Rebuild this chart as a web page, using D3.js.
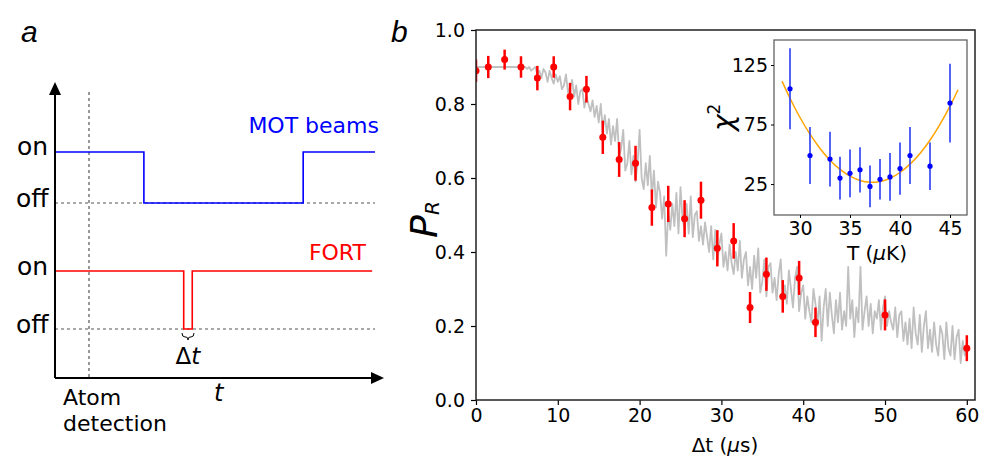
<!DOCTYPE html>
<html>
<head>
<meta charset="utf-8">
<script src="https://cdn.jsdelivr.net/npm/d3@7"></script>
<style>
  body { margin: 0; background: #fff; }
  svg { display: block; font-family: 'DejaVu Sans', sans-serif; }
  .tick text { font-family: 'DejaVu Sans', sans-serif; fill: #000; }
</style>
</head>
<body>
<svg id="chart" width="984" height="459"></svg>
<script>
// panel b: measured release-recapture probability
var redT = [0, 1.5, 3.5, 5.5, 7.5, 9.5, 11.5, 13.5, 15.5, 17.5, 19.5, 21.5, 23.5, 25.5, 27.5, 29.5, 31.5, 33.5, 35.5, 37.5, 39.5, 41.5, 50, 60];
var redP = [0.89, 0.90, 0.92, 0.90, 0.87, 0.90, 0.82, 0.84, 0.71, 0.65, 0.64, 0.52, 0.53, 0.49, 0.54, 0.41, 0.43, 0.25, 0.34, 0.28, 0.33, 0.21, 0.23, 0.14];
var redErr = [0.03, 0.03, 0.027, 0.029, 0.033, 0.029, 0.037, 0.036, 0.045, 0.047, 0.047, 0.049, 0.049, 0.05, 0.05, 0.049, 0.048, 0.042, 0.045, 0.044, 0.046, 0.04, 0.042, 0.035];

// simulated trace, one value every 0.25 us from 0 to 60
var grayStep = 0.25;
var grayP = [
  0.90, 0.90, 0.90, 0.90, 0.90, 0.90, 0.90, 0.90, 0.90, 0.90,
  0.90, 0.90, 0.90, 0.90, 0.90, 0.90, 0.90, 0.90, 0.90, 0.90,
  0.90, 0.90, 0.90, 0.90,
  0.90, 0.895, 0.90, 0.89,
  0.895, 0.90, 0.88, 0.89,
  0.87, 0.895, 0.885, 0.86,
  0.89, 0.87, 0.855, 0.88,
  0.86, 0.875, 0.84, 0.85,
  0.88, 0.83, 0.845, 0.865,
  0.82, 0.85, 0.80, 0.835,
  0.84, 0.79, 0.82, 0.80,
  0.78, 0.81, 0.765, 0.795,
  0.75, 0.80, 0.73, 0.77,
  0.72, 0.76, 0.69, 0.74,
  0.70, 0.76, 0.66, 0.68,
  0.73, 0.62, 0.64, 0.70,
  0.61, 0.66, 0.59, 0.64,
  0.73, 0.60, 0.57, 0.64,
  0.58, 0.66, 0.55, 0.62,
  0.52, 0.59, 0.56, 0.49,
  0.55, 0.39, 0.51, 0.46,
  0.53, 0.47, 0.56, 0.45,
  0.575, 0.49, 0.46, 0.53,
  0.45, 0.55, 0.44, 0.50,
  0.51, 0.43, 0.47, 0.42,
  0.48, 0.44, 0.40, 0.47,
  0.38, 0.46, 0.37, 0.42,
  0.45, 0.36, 0.40, 0.35,
  0.42, 0.37, 0.34, 0.40,
  0.35, 0.43, 0.33, 0.38,
  0.40, 0.31, 0.36, 0.30,
  0.39, 0.33, 0.41, 0.29,
  0.32, 0.38, 0.28, 0.36,
  0.37, 0.29, 0.33, 0.27,
  0.34, 0.38, 0.27, 0.31,
  0.26, 0.35, 0.30, 0.25,
  0.33, 0.36, 0.24, 0.29,
  0.31, 0.22, 0.28, 0.24,
  0.21, 0.30, 0.26, 0.20,
  0.28, 0.16, 0.25, 0.30,
  0.20, 0.29, 0.23, 0.18,
  0.27, 0.21, 0.29, 0.19,
  0.24, 0.20, 0.36, 0.22,
  0.27, 0.17, 0.25, 0.21,
  0.36, 0.19, 0.24, 0.28,
  0.20, 0.26, 0.18, 0.24,
  0.22, 0.27, 0.19, 0.25,
  0.28, 0.20, 0.24, 0.21,
  0.19, 0.25, 0.17, 0.23,
  0.24, 0.16, 0.21, 0.15,
  0.22, 0.14, 0.25, 0.18,
  0.15, 0.23, 0.13, 0.20,
  0.24, 0.14, 0.19, 0.13,
  0.21, 0.15, 0.12, 0.20,
  0.18, 0.11, 0.21, 0.14,
  0.12, 0.20, 0.11, 0.17,
  0.19, 0.10, 0.16, 0.12,
  0.15
];

var xTicks = [0, 10, 20, 30, 40, 50, 60];
var yTicks = [0.0, 0.2, 0.4, 0.6, 0.8, 1.0];

// inset: chi^2 versus temperature
var chiT = [29, 31, 33, 34, 35, 36, 37, 38, 39, 40, 41, 43, 45];
var chiV = [105, 49, 46, 30, 34, 37, 23, 29, 31, 38, 49, 40, 93];
var chiErr = [34, 24, 23, 18, 20, 19, 17.5, 17, 20, 22, 24, 20, 33];
var fitT = [28.2, 29, 30, 31, 32, 33, 34, 35, 36, 37, 38, 39, 40, 41, 42, 43, 44, 45, 45.8];
var fitV = [111.5, 97.1, 80.9, 66.9, 54.9, 45, 37.3, 31.6, 28, 26.5, 27.2, 29.9, 34.7, 41.7, 50.7, 61.8, 75.1, 90.4, 104.2];
var insetXTicks = [30, 35, 40, 45];
var insetYTicks = [25, 75, 125];

// panel a: timing levels (time in arbitrary units, 1 = on, 0 = off)
var motSteps = [[0, 1], [1.25, 1], [1.25, 0], [3.49, 0], [3.49, 1], [4.5, 1]];
var fortSteps = [[0, 1], [1.81, 1], [1.81, 0], [1.93, 0], [1.93, 1], [4.46, 1]];

var svg = d3.select('#chart');

function drawPanelA() {
  var g = svg.append('g');
  var tx = d3.scaleLinear().domain([0, 4.5]).range([55, 375]);
  var motY = d3.scaleLinear().domain([0, 1]).range([203, 152]);
  var fortY = d3.scaleLinear().domain([0, 1]).range([329, 271]);

  g.append('text').attr('x', 21).attr('y', 42)
    .style('font-family', 'Liberation Sans, Arial, sans-serif')
    .style('font-style', 'italic').style('font-size', '30px').text('a');

  // dashed guides
  [[55, 203, 375, 203], [55, 329, 375, 329], [89, 92, 89, 378]].forEach(function(d) {
    g.append('line').attr('x1', d[0]).attr('y1', d[1]).attr('x2', d[2]).attr('y2', d[3])
      .attr('stroke', '#555').attr('stroke-width', 1.2).attr('stroke-dasharray', '3,3');
  });

  var step = function(yScale) {
    return d3.line().x(function(d) { return tx(d[0]); }).y(function(d) { return yScale(d[1]); });
  };
  g.append('path').datum(motSteps).attr('d', step(motY))
    .attr('fill', 'none').attr('stroke', '#0000ff').attr('stroke-width', 1.6);
  g.append('path').datum(fortSteps).attr('d', step(fortY))
    .attr('fill', 'none').attr('stroke', '#ff0000').attr('stroke-width', 1.6);

  // axes with arrows
  g.append('line').attr('x1', 55).attr('y1', 378).attr('x2', 55).attr('y2', 92)
    .attr('stroke', '#000').attr('stroke-width', 2);
  g.append('line').attr('x1', 55).attr('y1', 378).attr('x2', 374).attr('y2', 378)
    .attr('stroke', '#000').attr('stroke-width', 2);
  g.append('path').attr('d', 'M55,82 L61,95 L49,95 Z').attr('fill', '#000');
  g.append('path').attr('d', 'M384,378 L371,372 L371,384 Z').attr('fill', '#000');

  var labels = [
    ['on', 17, 155], ['off', 16, 207], ['on', 17, 275], ['off', 16, 333]
  ];
  labels.forEach(function(d) {
    g.append('text').attr('x', d[1]).attr('y', d[2]).style('font-size', '25px').text(d[0]);
  });

  g.append('text').attr('x', 379).attr('y', 133).attr('text-anchor', 'end')
    .attr('fill', '#0000ff').style('font-size', '22px').text('MOT beams');
  g.append('text').attr('x', 366).attr('y', 260).attr('text-anchor', 'end')
    .attr('fill', '#ff0000').style('font-size', '22px').text('FORT');

  // brace under the FORT pulse
  g.append('path')
    .attr('d', 'M182,333 Q182,337 185,337 L186,337 Q188,337 188,340 Q188,337 190,337 L191,337 Q194,337 194,333')
    .attr('fill', 'none').attr('stroke', '#000').attr('stroke-width', 1);
  var dt = g.append('text').attr('x', 188).attr('y', 364).attr('text-anchor', 'middle').style('font-size', '23px');
  dt.append('tspan').text('Δ');
  dt.append('tspan').style('font-style', 'italic').text('t');

  g.append('text').attr('x', 63).attr('y', 405).style('font-size', '22px').text('Atom');
  g.append('text').attr('x', 63).attr('y', 431).style('font-size', '22px').text('detection');
  g.append('text').attr('x', 214).attr('y', 401).style('font-size', '24px').style('font-style', 'italic').text('t');
}

function drawPanelB() {
  var x = d3.scaleLinear().domain([0, 61]).range([476, 975]);
  var y = d3.scaleLinear().domain([0, 1]).range([400, 30]);
  var g = svg.append('g');

  svg.append('text').attr('x', 391).attr('y', 42)
    .style('font-family', 'Liberation Sans, Arial, sans-serif')
    .style('font-style', 'italic').style('font-size', '30px').text('b');

  g.append('defs').append('clipPath').attr('id', 'clipB')
    .append('rect').attr('x', 476).attr('y', 30).attr('width', 499).attr('height', 370);

  var plot = g.append('g').attr('clip-path', 'url(#clipB)');

  plot.append('path').datum(grayP)
    .attr('d', d3.line().x(function(d, i) { return x(i * grayStep); }).y(function(d) { return y(d); }))
    .attr('fill', 'none').attr('stroke', '#c0c0c0').attr('stroke-width', 1.8).attr('stroke-linejoin', 'round');

  plot.selectAll('.err').data(redT).enter().append('line')
    .attr('x1', function(d) { return x(d); }).attr('x2', function(d) { return x(d); })
    .attr('y1', function(d, i) { return y(redP[i] - redErr[i]); })
    .attr('y2', function(d, i) { return y(redP[i] + redErr[i]); })
    .attr('stroke', '#ff0000').attr('stroke-width', 2.5);
  plot.selectAll('.pt').data(redT).enter().append('circle')
    .attr('cx', function(d) { return x(d); }).attr('cy', function(d, i) { return y(redP[i]); })
    .attr('r', 3.5).attr('fill', '#ff0000');

  var xAxis = g.append('g').attr('transform', 'translate(0,400)')
    .call(d3.axisBottom(x).tickValues(xTicks).tickSize(5).tickPadding(4));
  var yAxis = g.append('g').attr('transform', 'translate(476,0)')
    .call(d3.axisLeft(y).tickValues(yTicks).tickFormat(d3.format('.1f')).tickSize(5).tickPadding(6));
  [xAxis, yAxis].forEach(function(a) {
    a.select('.domain').remove();
    a.selectAll('.tick line').attr('stroke', '#000').attr('stroke-width', 1.2);
    a.selectAll('.tick text').style('font-size', '19px');
  });

  g.append('rect').attr('x', 476).attr('y', 30).attr('width', 499).attr('height', 370)
    .attr('fill', 'none').attr('stroke', '#222').attr('stroke-width', 1.5);

  var xl = g.append('text').attr('x', 725).attr('y', 452).attr('text-anchor', 'middle').style('font-size', '20px');
  xl.append('tspan').text('Δt (');
  xl.append('tspan').style('font-style', 'italic').text('μ');
  xl.append('tspan').text('s)');

  var yl = g.append('text').attr('transform', 'translate(437,238) rotate(-90)')
    .style('font-style', 'italic');
  yl.append('tspan').style('font-size', '38px').text('P');
  yl.append('tspan').style('font-size', '20px').attr('dy', 2).text('R');
}

function drawInset() {
  var x = d3.scaleLinear().domain([27.4, 46.7]).range([774, 967]);
  var y = d3.scaleLinear().domain([-1, 146]).range([215, 40]);
  var g = svg.append('g');

  g.append('rect').attr('x', 774).attr('y', 40).attr('width', 193).attr('height', 175)
    .attr('fill', '#fff').attr('stroke', '#555').attr('stroke-width', 1.2);

  g.append('path').datum(fitT)
    .attr('d', d3.line().curve(d3.curveCatmullRom)
      .x(function(d) { return x(d); }).y(function(d, i) { return y(fitV[i]); }))
    .attr('fill', 'none').attr('stroke', '#ffa500').attr('stroke-width', 1.5);

  g.selectAll('.cerr').data(chiT).enter().append('line')
    .attr('x1', function(d) { return x(d); }).attr('x2', function(d) { return x(d); })
    .attr('y1', function(d, i) { return y(chiV[i] - chiErr[i]); })
    .attr('y2', function(d, i) { return y(chiV[i] + chiErr[i]); })
    .attr('stroke', '#2a3cf5').attr('stroke-width', 1.6);
  g.selectAll('.cpt').data(chiT).enter().append('circle')
    .attr('cx', function(d) { return x(d); }).attr('cy', function(d, i) { return y(chiV[i]); })
    .attr('r', 2.6).attr('fill', '#0000ff');

  var xAxis = g.append('g').attr('transform', 'translate(0,215)')
    .call(d3.axisBottom(x).tickValues(insetXTicks).tickSize(3).tickPadding(4));
  var yAxis = g.append('g').attr('transform', 'translate(774,0)')
    .call(d3.axisLeft(y).tickValues(insetYTicks).tickSize(3).tickPadding(3));
  [xAxis, yAxis].forEach(function(a) {
    a.select('.domain').remove();
    a.selectAll('.tick line').attr('stroke', '#000');
    a.selectAll('.tick text').style('font-size', '19px');
  });

  var xl = g.append('text').attr('x', 877).attr('y', 260).attr('text-anchor', 'middle').style('font-size', '20px');
  xl.append('tspan').text('T (');
  xl.append('tspan').style('font-style', 'italic').text('μ');
  xl.append('tspan').text('K)');

  var yl = g.append('text').attr('transform', 'translate(733,131) rotate(-90)').style('font-size', '28px');
  yl.append('tspan').style('font-style', 'italic').text('χ');
  yl.append('tspan').style('font-size', '17px').attr('dy', -13).text('2');
}

drawPanelA();
drawPanelB();
drawInset();
</script>
</body>
</html>
